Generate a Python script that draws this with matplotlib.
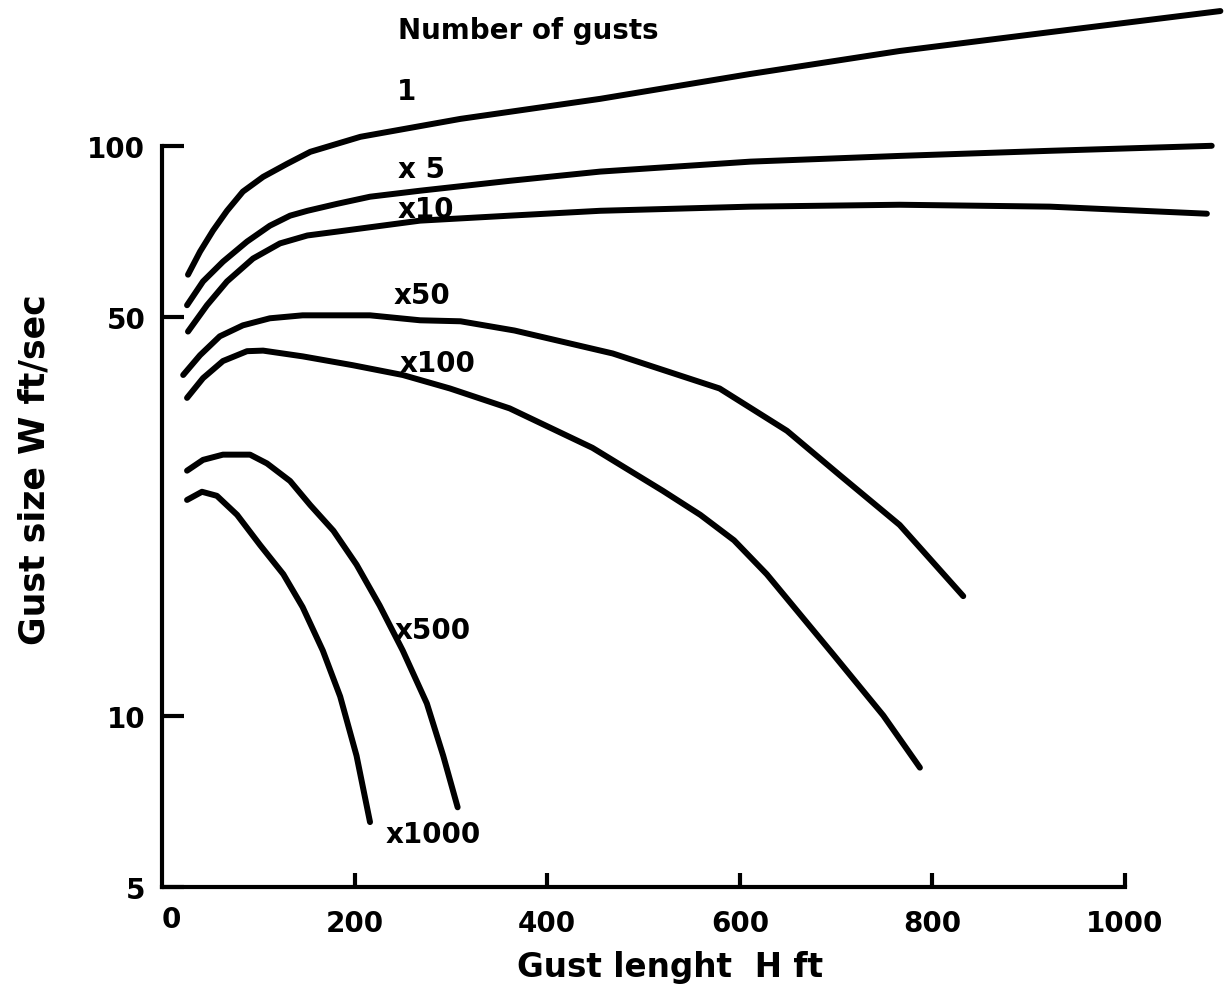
import numpy as np
import matplotlib
matplotlib.use("Agg")
import matplotlib.pyplot as plt

# Gust length H (ft) and gust size W (ft/sec), one pair of lists per curve
h_1 = [27, 39.5, 53, 67.5, 84, 105, 130, 154, 206, 310, 455, 611, 766, 922, 1099]
w_1 = [59.4, 65.2, 71.0, 76.9, 83.1, 88.2, 93.0, 97.6, 103.7, 111.5, 120.9, 133.7, 146.7, 158.3, 172.4]

h_5 = [26, 42.6, 63.3, 88.3, 112, 133, 151, 182, 216, 268, 361, 455, 611, 766, 922, 1090]
w_5 = [52.5, 57.8, 62.6, 67.9, 72.4, 75.4, 76.9, 79.1, 81.4, 83.4, 86.8, 90.1, 93.8, 96.0, 98.0, 100.0]

h_10 = [27, 46.7, 67.5, 94.5, 122.5, 151, 182, 268, 361, 455, 611, 766, 922, 1085]
w_10 = [47.2, 52.5, 57.8, 63.4, 67.4, 69.6, 70.7, 73.9, 75.4, 76.9, 78.2, 78.8, 78.2, 76.0]

h_50 = [22, 39.5, 60, 84, 112, 146, 216, 268, 310, 366, 468, 579, 649, 704, 766, 832]
w_50 = [39.6, 42.9, 46.3, 48.4, 49.8, 50.4, 50.4, 49.4, 49.2, 47.4, 43.2, 37.5, 31.6, 26.4, 21.6, 16.2]

h_100 = [26, 42.6, 63.3, 88.3, 105, 146, 198, 250, 299, 361, 447, 520, 559, 594, 628, 697, 749, 787]
w_100 = [36.1, 39.1, 41.9, 43.6, 43.7, 42.7, 41.2, 39.6, 37.5, 34.6, 29.5, 24.8, 22.5, 20.3, 17.7, 12.8, 10.0, 8.1]

h_500 = [26, 42.6, 63.3, 91.4, 109, 133, 154, 178, 202, 226, 250, 275, 292, 307]
w_500 = [26.9, 28.1, 28.7, 28.7, 27.7, 25.8, 23.4, 21.1, 18.4, 15.6, 13.0, 10.5, 8.5, 6.9]

h_1000 = [26, 41.5, 57, 78, 102, 126, 146, 167, 185, 202, 216]
w_1000 = [23.9, 24.7, 24.3, 22.5, 19.9, 17.7, 15.5, 13.0, 10.8, 8.5, 6.5]

x_ticks = [200, 400, 600, 800, 1000]
x_ticklabels = ["200", "400", "600", "800", "1000"]
y_ticks = [5, 10, 50, 100]
y_ticklabels = ["5", "10", "50", "100"]

curves = [(h_1, w_1), (h_5, w_5), (h_10, w_10), (h_50, w_50),
          (h_100, w_100), (h_500, w_500), (h_1000, w_1000)]

plt.rcParams['font.family'] = ['DejaVu Sans']
plt.rcParams['font.weight'] = 'bold'

fig = plt.figure(figsize=(12.3, 9.95), dpi=100)
ax = fig.add_axes([162 / 1230, 107 / 995, 1068 / 1230, 888 / 995])

for h, w in curves:
    ax.plot(h, w, color='black', lw=4.3, solid_capstyle='round',
            solid_joinstyle='round', clip_on=False)

ax.set_yscale('log')
ax.set_xlim(0, 1109)
ax.set_ylim(5, 181)

# axes look: only the left and bottom lines, ticks pointing inward
for side in ['top', 'right']:
    ax.spines[side].set_visible(False)
ax.spines['left'].set_bounds(5, 100)
ax.spines['bottom'].set_bounds(0, 1000)
ax.spines['left'].set_linewidth(3)
ax.spines['bottom'].set_linewidth(3)

ax.set_xticks(x_ticks)
ax.set_xticklabels(x_ticklabels)
ax.set_yticks(y_ticks)
ax.set_yticklabels(y_ticklabels)
ax.yaxis.set_minor_locator(matplotlib.ticker.NullLocator())
ax.tick_params(axis='x', direction='in', length=10, width=3, pad=16, labelsize=20)
ax.tick_params(axis='y', direction='in', length=16, width=3, pad=12, labelsize=20)
# the "0" sits under the corner
ax.text(0, -0.02, "0", transform=ax.get_xaxis_transform(), ha='left', va='top',
        fontsize=20, fontweight='bold')

ax.set_xlabel("Gust lenght  H ft", fontsize=23.5, fontweight='bold', va='center')
ax.xaxis.set_label_coords((670 - 162) / 1068, -(968 - 888) / 888)
ax.set_ylabel("Gust size W ft/sec", fontsize=25, fontweight='bold', va='center')
ax.yaxis.set_label_coords(-(162 - 35) / 1068, (888 - 470) / 888)

# curve labels
lab = dict(fontsize=20, fontweight='bold', ha='left', va='center')
ax.text(245, 160, "Number of gusts", **lab)
ax.text(244, 124.8, "1", **lab)
ax.text(245, 91.1, "x 5", **lab)
ax.text(245, 77.6, "x10", **lab)
ax.text(240, 54.8, "x50", **lab)
ax.text(247, 41.5, "x100", **lab)
ax.text(242, 14.1, "x500", **lab)
ax.text(232, 6.2, "x1000", **lab)

fig.savefig("out.png", dpi=100)
